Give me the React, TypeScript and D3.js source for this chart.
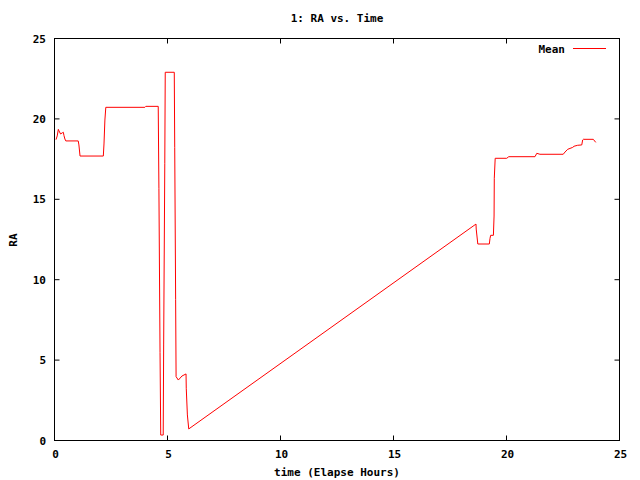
import React from "react";
import * as d3 from "d3";

const times = [
  0.066, 0.12, 0.17, 0.2, 0.27, 0.35, 0.39, 0.42, 0.46, 0.5,
  1.05, 1.08, 1.13, 2.16, 2.19, 2.23, 2.27, 4.0, 4.04, 4.59,
  4.62, 4.67, 4.7, 4.81, 4.83, 4.88, 4.9, 5.3, 5.32, 5.36,
  5.38, 5.48, 5.64, 5.82, 5.83, 5.88, 5.94, 18.65, 18.66, 18.73,
  19.24, 19.27, 19.3, 19.42, 19.45, 19.46, 19.5, 20.01, 20.1, 21.26,
  21.34, 21.48, 22.51, 22.59, 22.71, 22.93, 22.99, 23.15, 23.33, 23.37,
  23.4, 23.84, 23.95,
];
const meanRA = [
  18.71, 18.94, 19.35, 19.25, 19.06, 19.14, 19.17, 18.96, 18.75, 18.63,
  18.63, 18.38, 17.69, 17.69, 18.44, 19.93, 20.72, 20.72, 20.78, 20.78,
  15.68, 5.46, 0.34, 0.34, 5.94, 17.24, 22.9, 22.9, 18.21, 8.78,
  3.97, 3.76, 4.01, 4.14, 3.25, 1.59, 0.72, 13.46, 13.15, 12.22,
  12.22, 12.57, 12.76, 12.76, 13.96, 16.31, 17.55, 17.55, 17.65, 17.65,
  17.86, 17.8, 17.8, 17.94, 18.11, 18.23, 18.3, 18.36, 18.38, 18.69,
  18.73, 18.73, 18.54,
];
const xTicks = [0, 5, 10, 15, 20, 25];
const yTicks = [0, 5, 10, 15, 20, 25];
const title = "1: RA vs. Time";
const xLabel = "time (Elapse Hours)";
const yLabel = "RA";
const seriesName = "Mean";

const W = 640;
const H = 480;
const L = 54.5;
const R = 619.5;
const T = 38.5;
const B = 440.5;
const font = "'DejaVu Sans Mono', monospace";

export default function App() {
  const x = d3.scaleLinear().domain([0, 25]).range([L, R]);
  const y = d3.scaleLinear().domain([0, 25]).range([B, T]);
  const pts: [number, number][] = times.map((t, i) => [t, meanRA[i]]);
  const line = d3
    .line<[number, number]>()
    .x((d) => x(d[0]))
    .y((d) => y(d[1]));
  const tl = 5;
  return (
    <svg
      width={W}
      height={H}
      style={{ position: "absolute", left: 0, top: 0, background: "#fff" }}
      fontFamily={font}
      fontWeight="bold"
      fontSize={11}
    >
      <rect x={0} y={0} width={W} height={H} fill="#fff" />
      <text x={(L + R) / 2} y={22} textAnchor="middle">{title}</text>
      {xTicks.map((t) => (
        <g key={"x" + t}>
          <line x1={x(t)} x2={x(t)} y1={B} y2={B - tl} stroke="#000" />
          <line x1={x(t)} x2={x(t)} y1={T} y2={T + tl} stroke="#000" />
          <text x={x(t) + 1} y={458} textAnchor="middle">{t}</text>
        </g>
      ))}
      {yTicks.map((t) => (
        <g key={"y" + t}>
          <line x1={L} x2={L + tl} y1={y(t)} y2={y(t)} stroke="#000" />
          <line x1={R} x2={R - tl} y1={y(t)} y2={y(t)} stroke="#000" />
          <text x={46} y={y(t) + 4} textAnchor="end">{t}</text>
        </g>
      ))}
      <rect x={L} y={T} width={R - L} height={B - T} fill="none" stroke="#000" />
      <text x={(L + R) / 2} y={476} textAnchor="middle">{xLabel}</text>
      <text transform={`translate(17,240) rotate(-90)`} textAnchor="middle">{yLabel}</text>
      <path d={line(pts) || ""} fill="none" stroke="#ff0000" strokeWidth={1} />
      <text x={565} y={53} textAnchor="end">{seriesName}</text>
      <line x1={573} x2={606} y1={48.5} y2={48.5} stroke="#ff0000" />
    </svg>
  );
}
